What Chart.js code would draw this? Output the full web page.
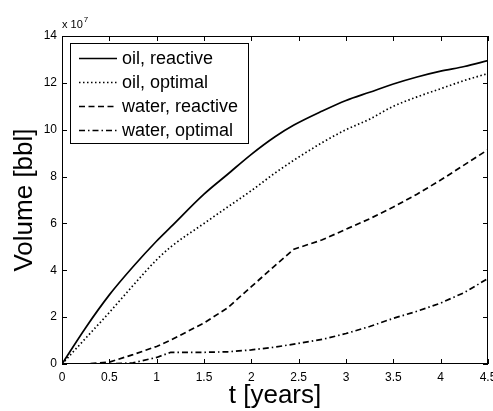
<!DOCTYPE html>
<html lang="en">
<head>
<meta charset="UTF-8">
<title>Volume vs time</title>
<script src="https://cdn.jsdelivr.net/npm/chart.js"></script>
<style>
    body { margin: 0; background: #fff; }
    canvas { display: block; }
</style>
</head>
<body>
<canvas id="volChart" width="493" height="411"></canvas>
<script>
// time axis (years) and cumulative volumes in units of 1e7 bbl
const tYears = [0, 0.25, 0.5, 0.75, 1, 1.15, 1.5, 1.75, 2, 2.25, 2.45, 2.75, 3, 3.25, 3.5, 3.75, 4, 4.25, 4.5];
const oilReactive   = [0, 1.55, 2.95, 4.15, 5.25, 5.85, 7.25, 8.1, 8.95, 9.7, 10.2, 10.8, 11.25, 11.6, 11.95, 12.25, 12.5, 12.7, 12.95];
const oilOptimal    = [0, 1.1, 2.2, 3.35, 4.45, 5.0, 6.0, 6.7, 7.4, 8.15, 8.7, 9.45, 10.0, 10.45, 11.0, 11.4, 11.75, 12.1, 12.4];
const waterReactive = [0, 0, 0.08, 0.4, 0.75, 1.02, 1.75, 2.4, 3.3, 4.2, 4.9, 5.3, 5.75, 6.2, 6.7, 7.25, 7.85, 8.5, 9.15];
const waterOptimal  = [0, 0, 0, 0.05, 0.28, 0.5, 0.5, 0.52, 0.6, 0.72, 0.85, 1.05, 1.3, 1.6, 1.95, 2.25, 2.6, 3.05, 3.65];

const seriesLabels = ['oil, reactive', 'oil, optimal', 'water, reactive', 'water, optimal'];
const xTicks = [0, 0.5, 1, 1.5, 2, 2.5, 3, 3.5, 4, 4.5];
const yTicks = [0, 2, 4, 6, 8, 10, 12, 14];

const FONT = "'Liberation Sans', Arial, Helvetica, sans-serif";

const toPoints = (ys) => ys.map((y, i) => ({ x: tYears[i], y }));

const styles = [
    { dash: [], smooth: true },
    { dash: [1.5, 2.5], smooth: true },
    { dash: [6, 3.5], smooth: false },
    { dash: [6, 3, 1.5, 3], smooth: false }
];

const datasets = [oilReactive, oilOptimal, waterReactive, waterOptimal].map((ys, i) => ({
    label: seriesLabels[i],
    data: toPoints(ys),
    borderColor: '#000',
    borderWidth: 1.7,
    borderDash: styles[i].dash,
    pointRadius: 0,
    cubicInterpolationMode: styles[i].smooth ? 'monotone' : 'default',
    tension: 0,
    fill: false
}));

// MATLAB-like frame, inward ticks, exponent label and legend box
const matlabFrame = {
    id: 'matlabFrame',
    afterDraw(chart) {
        const ctx = chart.ctx;
        const a = chart.chartArea;
        const xs = chart.scales.x, ys = chart.scales.y;
        ctx.save();
        ctx.strokeStyle = '#000';
        ctx.lineWidth = 1;
        ctx.setLineDash([]);
        ctx.strokeRect(a.left + 0.5, a.top + 0.5, a.right - a.left - 1, a.bottom - a.top - 1);
        const tl = 5;
        ctx.beginPath();
        xTicks.forEach(v => {
            const px = Math.round(xs.getPixelForValue(v)) + 0.5;
            ctx.moveTo(px, a.bottom); ctx.lineTo(px, a.bottom - tl);
            ctx.moveTo(px, a.top); ctx.lineTo(px, a.top + tl);
        });
        yTicks.forEach(v => {
            const py = Math.round(ys.getPixelForValue(v)) + 0.5;
            ctx.moveTo(a.left, py); ctx.lineTo(a.left + tl, py);
            ctx.moveTo(a.right, py); ctx.lineTo(a.right - tl, py);
        });
        ctx.stroke();

        // exponent
        ctx.fillStyle = '#000';
        ctx.textBaseline = 'alphabetic';
        ctx.font = '11px ' + FONT;
        ctx.fillText('x 10', a.left, a.top - 8);
        const w = ctx.measureText('x 10').width;
        ctx.font = '8px ' + FONT;
        ctx.fillText('7', a.left + w + 1, a.top - 14);

        // legend
        const lx = 70, ly = 43, lw = 178, lh = 100;
        ctx.fillStyle = '#fff';
        ctx.fillRect(lx, ly, lw, lh);
        ctx.strokeRect(lx + 0.5, ly + 0.5, lw, lh);
        const rows = [58, 82, 106, 130];
        ctx.font = '18px ' + FONT;
        ctx.textBaseline = 'middle';
        chart.data.datasets.forEach((ds, i) => {
            ctx.beginPath();
            ctx.lineWidth = ds.borderWidth;
            ctx.setLineDash(ds.borderDash);
            ctx.moveTo(79, rows[i] + 0.5);
            ctx.lineTo(117, rows[i] + 0.5);
            ctx.stroke();
            ctx.setLineDash([]);
            ctx.fillStyle = '#000';
            ctx.fillText(ds.label, 122, rows[i] + 1);
        });
        ctx.restore();
    }
};

new Chart(document.getElementById('volChart'), {
    type: 'line',
    data: { datasets },
    options: {
        responsive: false,
        animation: false,
        layout: { padding: { top: 36, right: 5, left: 0, bottom: 0 } },
        plugins: { legend: { display: false }, tooltip: { enabled: false } },
        scales: {
            x: {
                type: 'linear',
                min: 0, max: 4.5,
                grid: { display: false, drawTicks: false },
                border: { display: false },
                afterBuildTicks: s => { s.ticks = xTicks.map(v => ({ value: v })); },
                afterFit: s => { s.height = 47; s.paddingLeft = 0; s.paddingRight = 0; },
                ticks: {
                    autoSkip: false, maxRotation: 0, padding: 6,
                    color: '#000', font: { family: FONT, size: 12 },
                    callback: v => String(v)
                },
                title: {
                    display: true, text: 't [years]', color: '#000',
                    font: { family: FONT, size: 26, lineHeight: 1.2 },
                    padding: { top: 0, bottom: 0 }
                }
            },
            y: {
                type: 'linear',
                min: 0, max: 14,
                grid: { display: false, drawTicks: false },
                border: { display: false },
                afterBuildTicks: s => { s.ticks = yTicks.map(v => ({ value: v })); },
                afterFit: s => { s.width = 62; s.paddingTop = 0; s.paddingBottom = 0; },
                ticks: {
                    autoSkip: false, padding: 5,
                    color: '#000', font: { family: FONT, size: 12 },
                    callback: v => String(v)
                },
                title: {
                    display: true, text: 'Volume [bbl]', color: '#000',
                    font: { family: FONT, size: 26, lineHeight: 1.2 },
                    padding: { top: 9, bottom: 0 }
                }
            }
        }
    },
    plugins: [matlabFrame]
});
</script>
</body>
</html>
